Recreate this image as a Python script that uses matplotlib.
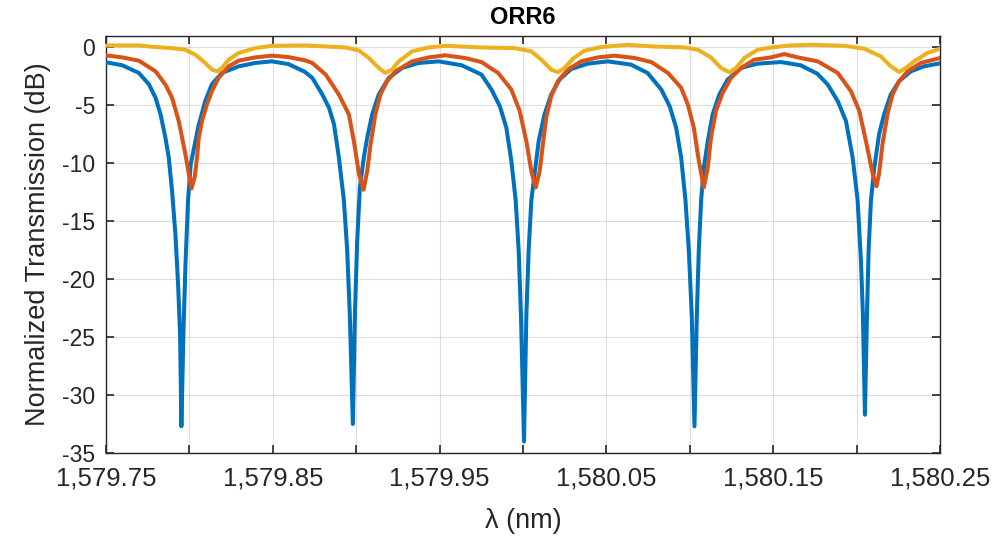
import matplotlib
matplotlib.use("Agg")
import matplotlib.pyplot as plt

# ---------------- data ----------------
blue_nm = [1579.7500, 1579.7598, 1579.7697, 1579.7757, 1579.7797, 1579.7827, 1579.7856, 1579.7876, 1579.7896,
           1579.7916, 1579.7932, 1579.7944, 1579.7952, 1579.7964, 1579.7976, 1579.7992, 1579.8008, 1579.8032,
           1579.8056, 1579.8095, 1579.8135, 1579.8195, 1579.8295, 1579.8394, 1579.8494,
           1579.8593, 1579.8693, 1579.8737, 1579.8797, 1579.8837, 1579.8867, 1579.8896, 1579.8926, 1579.8946,
           1579.8962, 1579.8980, 1579.8992, 1579.9006, 1579.9022, 1579.9046, 1579.9066, 1579.9096, 1579.9135,
           1579.9195, 1579.9275, 1579.9374, 1579.9494,
           1579.9633, 1579.9751, 1579.9811, 1579.9861, 1579.9900, 1579.9930, 1579.9956, 1579.9974, 1579.9988,
           1580.0006, 1580.0020, 1580.0034, 1580.0050, 1580.0074, 1580.0094, 1580.0129, 1580.0169, 1580.0219,
           1580.0289, 1580.0388, 1580.0508,
           1580.0647, 1580.0747, 1580.0829, 1580.0879, 1580.0918, 1580.0948, 1580.0974, 1580.0994, 1580.1012,
           1580.1028, 1580.1042, 1580.1054, 1580.1068, 1580.1084, 1580.1108, 1580.1137, 1580.1177, 1580.1227,
           1580.1307, 1580.1406, 1580.1546,
           1580.1665, 1580.1765, 1580.1827, 1580.1887, 1580.1936, 1580.1976, 1580.2006, 1580.2026, 1580.2038,
           1580.2050, 1580.2062, 1580.2072, 1580.2086, 1580.2106, 1580.2135, 1580.2165, 1580.2205, 1580.2255,
           1580.2325, 1580.2404, 1580.2500]
blue_db = [-1.31, -1.57, -2.23, -3.2, -4.37, -5.8, -7.8, -9.5, -12.4, -16.1, -20.4, -24.7, -32.7, -24.7, -18.9,
           -13.2, -10.1, -8.4, -6.7, -4.66, -3.2, -2.23, -1.66, -1.37, -1.23,
           -1.46, -2.14, -2.66, -4.09, -5.23, -6.66, -9.5, -13.2, -17.5, -23.2, -32.5, -23.2, -16.7, -12.1, -9.5,
           -7.8, -5.8, -4.09, -2.66, -1.8, -1.37, -1.23,
           -1.57, -2.37, -3.66, -5.09, -6.94, -9.8, -13.2, -17.5, -23.2, -34.0, -23.2, -17.5, -13.2, -10.4, -8.1,
           -5.8, -4.09, -2.8, -1.89, -1.43, -1.23,
           -1.51, -2.23, -3.66, -5.09, -6.94, -9.5, -13.2, -17.5, -23.2, -32.7, -23.2, -17.5, -13.2, -10.4, -8.1,
           -5.8, -4.09, -2.8, -1.8, -1.43, -1.29,
           -1.57, -2.3, -3.23, -4.66, -6.37, -9.5, -13.2, -18.4, -23.2, -31.7, -23.2, -17.5, -13.2, -10.4, -7.5,
           -5.8, -4.09, -2.94, -2.09, -1.66, -1.4]

orange_nm = [1579.7500, 1579.7598, 1579.7697, 1579.7797, 1579.7856, 1579.7896, 1579.7936, 1579.7976, 1579.7996,
             1579.8012, 1579.8032, 1579.8046, 1579.8056, 1579.8075, 1579.8105, 1579.8135, 1579.8175, 1579.8235,
             1579.8295, 1579.8394, 1579.8494,
             1579.8593, 1579.8693, 1579.8737, 1579.8817, 1579.8896, 1579.8956, 1579.8986, 1579.9016, 1579.9044,
             1579.9066, 1579.9086, 1579.9115, 1579.9145, 1579.9185, 1579.9235, 1579.9335, 1579.9434, 1579.9534,
             1579.9652, 1579.9751, 1579.9851, 1579.9930, 1579.9980, 1580.0020, 1580.0050, 1580.0076, 1580.0100,
             1580.0119, 1580.0139, 1580.0169, 1580.0209, 1580.0269, 1580.0348, 1580.0448, 1580.0548,
             1580.0669, 1580.0769, 1580.0869, 1580.0948, 1580.0988, 1580.1024, 1580.1054, 1580.1084, 1580.1108,
             1580.1127, 1580.1157, 1580.1197, 1580.1247, 1580.1307, 1580.1386, 1580.1486, 1580.1566,
             1580.1648, 1580.1767, 1580.1887, 1580.1966, 1580.2016, 1580.2056, 1580.2096, 1580.2119, 1580.2135,
             1580.2155, 1580.2185, 1580.2215, 1580.2255, 1580.2305, 1580.2384, 1580.2500]
orange_db = [-0.71, -0.89, -1.17, -2.09, -3.23, -4.37, -6.37, -9.23, -10.9, -12.2, -11.2, -9.5, -7.8, -6.4, -4.94,
             -3.8, -2.66, -1.66, -1.17, -0.89, -0.74,
             -0.86, -1.14, -1.37, -2.37, -4.09, -5.8, -8.1, -10.9, -12.3, -10.7, -8.4, -5.8, -4.09, -2.94, -2.09,
             -1.23, -0.89, -0.71,
             -0.94, -1.29, -2.23, -3.66, -5.5, -8.1, -10.7, -12.1, -10.7, -8.4, -6.1, -4.23, -2.94, -1.94, -1.23,
             -0.89, -0.74,
             -0.94, -1.29, -2.23, -3.51, -4.94, -6.94, -9.8, -12.1, -10.4, -7.8, -5.5, -3.94, -2.66, -1.8, -1.09,
             -0.89, -0.6,
             -0.89, -1.23, -2.23, -3.8, -5.5, -8.1, -10.9, -12.0, -10.9, -8.4, -5.8, -4.09, -2.94, -2.09, -1.37,
             -0.94]

yellow_nm = [1579.7500, 1579.7697, 1579.7797, 1579.7896, 1579.7976, 1579.8036, 1579.8095, 1579.8135, 1579.8165,
             1579.8195, 1579.8235, 1579.8295, 1579.8394, 1579.8494, 1579.8693,
             1579.8737, 1579.8936, 1579.9016, 1579.9076, 1579.9135, 1579.9175, 1579.9215, 1579.9255, 1579.9335,
             1579.9434, 1579.9534,
             1579.9751, 1579.9950, 1580.0050, 1580.0110, 1580.0169, 1580.0209, 1580.0249, 1580.0299, 1580.0368,
             1580.0468, 1580.0627,
             1580.0769, 1580.0968, 1580.1048, 1580.1127, 1580.1187, 1580.1237, 1580.1277, 1580.1327, 1580.1406,
             1580.1506, 1580.1605,
             1580.1727, 1580.1926, 1580.2046, 1580.2145, 1580.2205, 1580.2255, 1580.2295, 1580.2345, 1580.2424,
             1580.2500]
yellow_db = [0.14, 0.14, 0.0, -0.09, -0.23, -0.66, -1.37, -1.94, -2.09, -1.8, -1.09, -0.51, -0.09, 0.11, 0.14,
             0.11, -0.03, -0.29, -0.94, -1.8, -2.23, -1.94, -1.23, -0.37, -0.03, 0.11,
             -0.03, -0.09, -0.37, -1.09, -1.94, -2.17, -1.8, -1.0, -0.31, 0.0, 0.2,
             0.06, -0.03, -0.23, -0.89, -1.8, -2.17, -1.8, -0.94, -0.23, 0.0, 0.14,
             0.2, 0.11, -0.14, -0.8, -1.66, -2.14, -1.8, -1.23, -0.51, -0.14]

x_ticks = [1579.75, 1579.80, 1579.85, 1579.90, 1579.95, 1580.00, 1580.05, 1580.10, 1580.15, 1580.20, 1580.25]
x_tick_labels = ["1,579.75", "", "1,579.85", "", "1,579.95", "", "1,580.05", "", "1,580.15", "", "1,580.25"]
y_ticks = [-35, -30, -25, -20, -15, -10, -5, 0]
y_tick_labels = ["-35", "-30", "-25", "-20", "-15", "-10", "-5", "0"]

title_text = "ORR6"
x_label = "λ (nm)"
y_label = "Normalized Transmission (dB)"

# ---------------- styling ----------------
plt.rcParams['font.family'] = ['Liberation Sans', 'DejaVu Sans']
axc = '#262626'

fig = plt.figure(figsize=(10.03, 5.37), dpi=100)
ax = fig.add_axes([106 / 1003, 1 - 453 / 537, (940 - 106) / 1003, (453 - 35.5) / 537])

lw = 2.9
ax.plot(blue_nm, blue_db, color='#0072BD', lw=lw, solid_joinstyle='round', solid_capstyle='round', zorder=3)
ax.plot(orange_nm, orange_db, color='#D95319', lw=lw, solid_joinstyle='round', solid_capstyle='round', zorder=4)
ax.plot(yellow_nm, yellow_db, color='#EDB120', lw=lw, solid_joinstyle='round', solid_capstyle='round', zorder=5)

ax.set_xlim(1579.75, 1580.25)
ax.set_ylim(-35, 1)
ax.set_xticks(x_ticks)
ax.set_xticklabels(x_tick_labels)
ax.set_yticks(y_ticks)
ax.set_yticklabels(y_tick_labels)

ax.grid(True, color=axc, alpha=0.15, lw=0.8)
ax.set_axisbelow(True)
ax.tick_params(direction='in', length=6, width=1.2, colors=axc,
               top=True, right=True)
ax.tick_params(axis='x', labelsize=18.5, pad=10)
ax.tick_params(axis='y', labelsize=16.5, pad=8)
for s in ax.spines.values():
    s.set_color(axc)
    s.set_linewidth(1.0)

ax.set_title(title_text, fontsize=17, fontweight='bold', color='black', pad=8)
ax.set_xlabel(x_label, fontsize=19.5, color=axc, labelpad=12)
ax.set_ylabel(y_label, fontsize=19.5, color=axc, labelpad=8)

fig.savefig("out.png", dpi=100)
